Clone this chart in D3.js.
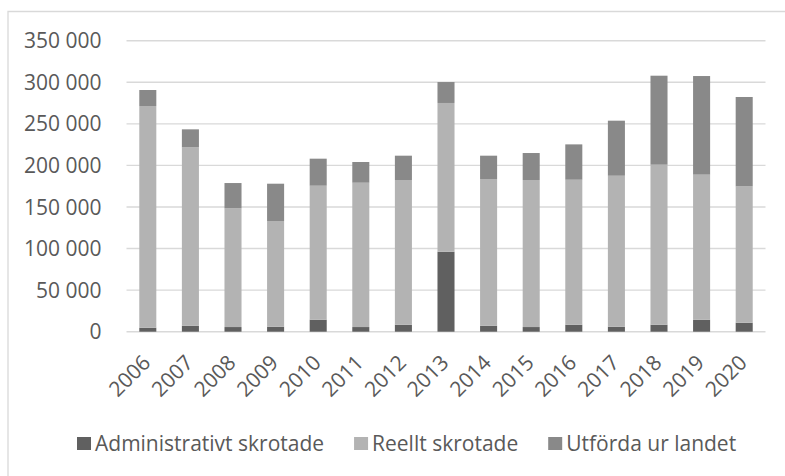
<!DOCTYPE html>
<html>
<head>
<meta charset="utf-8">
<script src="https://cdn.jsdelivr.net/npm/d3@7"></script>
<style>
  html, body { margin: 0; padding: 0; background: #fff; }
  svg { display: block; font-family: "Open Sans", sans-serif; }
</style>
</head>
<body>
<div id="chart"></div>
<script>
const width = 785;
const height = 476;

const years = ['2006', '2007', '2008', '2009', '2010', '2011', '2012', '2013', '2014', '2015', '2016', '2017', '2018', '2019', '2020'];
const administrativt = [4800, 7200, 5600, 6000, 14400, 5600, 8400, 96200, 7200, 5600, 8400, 6000, 8400, 14400, 10800];
const reellt = [266600, 214500, 142800, 127100, 161200, 173600, 174000, 178900, 176400, 176800, 174400, 181600, 192500, 174500, 164000];
const utforda = [19300, 21700, 30400, 44900, 32500, 24900, 29300, 25200, 28100, 32500, 42500, 66200, 107000, 118600, 107500];
const seriesNames = ['Administrativt skrotade', 'Reellt skrotade', 'Utförda ur landet'];
const colors = ['#606060', '#b3b3b3', '#898989'];
const yTicks = [0, 50000, 100000, 150000, 200000, 250000, 300000, 350000];

const rows = years.map((year, i)=>({
  year,
  a: administrativt[i],
  r: reellt[i],
  u: utforda[i],
}));
const keys = ['a', 'r', 'u'];
const stacked = d3.stack().keys(keys)(rows);

const x = d3.scaleBand()
  .domain(years)
  .range([126.5, 765.5])
  .paddingInner(0.6)
  .paddingOuter(0.3);

const y = d3.scaleLinear()
  .domain([0, 350000])
  .range([331.7, 40.7]);

const fmt = d3.formatLocale({decimal: ',', thousands: ' ', grouping: [3], currency: ['', ' kr']}).format(',d');
const fontSize = 21;

const svg = d3.select('#chart').append('svg')
  .attr('width', width)
  .attr('height', height);

// chart frame (only left and top edges visible)
svg.append('path')
  .attr('d', 'M8,476V11.5H785')
  .attr('fill', 'none')
  .attr('stroke', '#d9d9d9')
  .attr('stroke-width', 1.3);

// gridlines
svg.append('g')
  .selectAll('line')
  .data(yTicks)
  .join('line')
  .attr('x1', x.range()[0])
  .attr('x2', x.range()[1])
  .attr('y1', (d)=>y(d))
  .attr('y2', (d)=>y(d))
  .attr('stroke', '#d9d9d9')
  .attr('stroke-width', 1.4);

// y labels
svg.append('g')
  .selectAll('text')
  .data(yTicks)
  .join('text')
  .attr('x', 101.5)
  .attr('y', (d)=>y(d))
  .attr('dy', '0.36em')
  .attr('text-anchor', 'end')
  .attr('fill', '#595959')
  .attr('font-size', fontSize)
  .text((d)=>fmt(d));

// bars
svg.append('g')
  .selectAll('g')
  .data(stacked)
  .join('g')
  .attr('fill', (d, i)=>colors[i])
  .selectAll('rect')
  .data((d)=>d)
  .join('rect')
  .attr('x', (d)=>x(d.data.year))
  .attr('width', x.bandwidth())
  .attr('y', (d)=>y(d[1]))
  .attr('height', (d)=>y(d[0]) - y(d[1]));

// x labels
svg.append('g')
  .selectAll('text')
  .data(years)
  .join('text')
  .attr('transform', (d)=>`translate(${x(d) + x.bandwidth() / 2 + 4},364) rotate(-45)`)
  .attr('text-anchor', 'end')
  .attr('fill', '#595959')
  .attr('font-size', fontSize)
  .text((d)=>d);

// legend, laid out left to right from measured text widths
const legend = svg.append('g');
let cursor = 77;
seriesNames.forEach((name, i)=>{
  legend.append('rect')
    .attr('x', cursor)
    .attr('y', 437)
    .attr('width', 14)
    .attr('height', 13)
    .attr('fill', colors[i]);
  const t = legend.append('text')
    .attr('x', cursor + 18)
    .attr('y', 450.5)
    .attr('fill', '#595959')
    .attr('font-size', fontSize)
    .text(name);
  cursor += 18 + t.node().getComputedTextLength() + 30;
});
</script>
</body>
</html>
